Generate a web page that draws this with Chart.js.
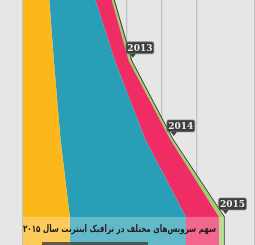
<!DOCTYPE html>
<html>
<head>
<meta charset="utf-8">
<script src="https://cdn.jsdelivr.net/npm/chart.js@4.4.1/dist/chart.umd.min.js"></script>
<style>
html,body{margin:0;padding:0;background:#e6e6e7;}
#wrap{position:relative;width:255px;height:245px;}
</style>
</head>
<body>
<div id="wrap"><canvas id="c" width="255" height="245"></canvas></div>
<script>
// Years on the vertical axis (last row extends the 2015 shares to the bottom edge)
const years = [2012, 2013, 2014, 2015, 2015.36];
const labeledYears = ['2013', '2014', '2015'];
// Stacked shares (units: 10 per grid column)
const yellowShare = [7.2, 8.9, 10.8, 13.5, 13.5];
const tealShare   = [12.1, 17.6, 24.4, 33.5, 33.5];
const pinkShare   = [4.9, 4.0, 7.2, 9.5, 9.5];
const greenShare  = [0.7, 0.9, 0.8, 1.6, 1.6];
const titleText = 'سهم سرویس‌های مختلف در ترافیک اینترنت سال ۲۰۱۵';

const pts = arr => arr.map((v, i) => ({x: v, y: years[i]}));

const overlayPlugin = {
  id: 'overlay',
  afterDatasetsDraw(chart) {
    const ctx = chart.ctx;
    const xs = chart.scales.x, ys = chart.scales.y;
    const last = chart.getDatasetMeta(3);
    const yTop = ys.getPixelForValue(2015);
    const xEnd = last.data[3].x + 1;
    const x0 = xs.getPixelForValue(0);
    ctx.save();
    ctx.fillStyle = 'rgba(255,255,255,0.28)';
    ctx.fillRect(x0, yTop, xEnd - x0, chart.height - yTop);
    // dark box peeking at bottom
    ctx.fillStyle = 'rgba(70,70,70,0.85)';
    ctx.fillRect(42, 242, 106, 4);
    // title
    ctx.fillStyle = '#1e1e1e';
    ctx.font = 'bold 10px "DejaVu Sans"';
    ctx.textAlign = 'right';
    ctx.textBaseline = 'middle';
    ctx.direction = 'rtl';
    ctx.fillText(titleText, 216, 229, 193);
    ctx.restore();

    // year labels
    ctx.save();
    labeledYears.forEach((lab, k) => {
      const p = last.data[k + 1];
      const px = p.x, py = p.y;
      const bx = px - 6, by = py - 19, bw = 28, bh = 12;
      ctx.fillStyle = '#3e3e3e';
      ctx.strokeStyle = '#8a8a8a';
      ctx.lineWidth = 0.6;
      ctx.beginPath();
      ctx.roundRect(bx, by, bw, bh, 2);
      ctx.fill();
      ctx.stroke();
      ctx.beginPath();
      ctx.moveTo(px - 2, by + bh);
      ctx.lineTo(px + 4, by + bh);
      ctx.lineTo(px + 1, py - 3);
      ctx.closePath();
      ctx.fillStyle = '#3e3e3e';
      ctx.fill();
      ctx.fillStyle = '#ececec';
      ctx.font = 'bold 9px "DejaVu Serif"';
      ctx.textAlign = 'center';
      ctx.textBaseline = 'middle';
      ctx.fillText(lab, bx + bw / 2, by + bh / 2 + 0.5);
    });
    ctx.restore();
  }
};

new Chart(document.getElementById('c'), {
  type: 'line',
  data: {
    datasets: [
      {data: pts(yellowShare), backgroundColor: '#fcb81b', borderWidth: 0, fill: 'origin', pointRadius: 0},
      {data: pts(tealShare), backgroundColor: '#289fb6', borderWidth: 0, fill: '-1', pointRadius: 0},
      {data: pts(pinkShare), backgroundColor: '#ef2c63', borderWidth: 0, fill: '-1', pointRadius: 0},
      {data: pts(greenShare), backgroundColor: '#9fd06c', borderColor: '#3a3a3a', borderWidth: 1, fill: '-1', pointRadius: 0}
    ]
  },
  options: {
    indexAxis: 'y',
    animation: false,
    responsive: false,
    events: [],
    layout: {padding: {left: 23, right: 0, top: 0, bottom: 0}},
    plugins: {legend: {display: false}, tooltip: {enabled: false}},
    elements: {line: {tension: 0}},
    scales: {
      x: {
        type: 'linear', stacked: true, min: 0, max: 66.9,
        ticks: {display: false, stepSize: 10},
        grid: {color: '#c3c3c4', lineWidth: 1.3, drawTicks: false},
        border: {display: false}
      },
      y: {
        type: 'linear', reverse: true, min: 2012.22, max: 2015.36,
        display: false
      }
    }
  },
  plugins: [overlayPlugin]
});
</script>
</body>
</html>
